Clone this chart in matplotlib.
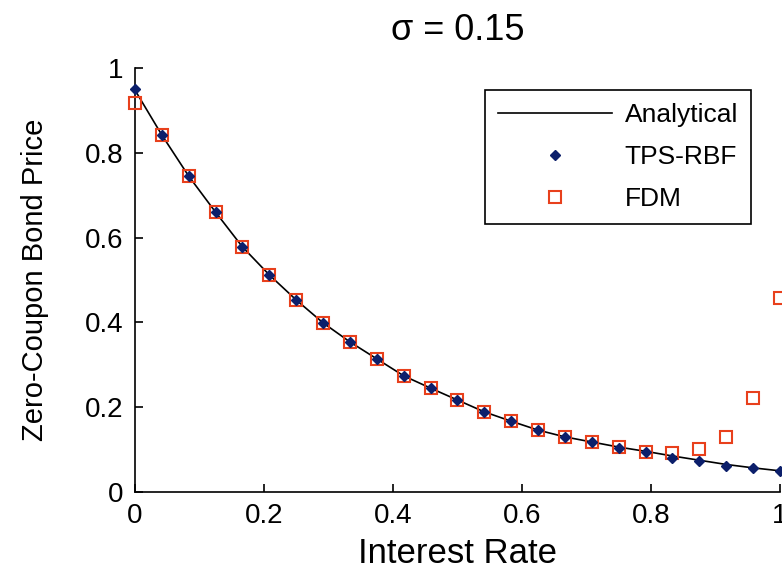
import numpy as np
import matplotlib
matplotlib.use('Agg')
import matplotlib.pyplot as plt

plt.rcParams['font.family'] = ['Liberation Sans', 'DejaVu Sans']

# Interest rate grid (25 nodes)
r = np.arange(25) / 24.0

# Analytical price
analytical = [0.948, 0.842, 0.745, 0.660, 0.578, 0.512, 0.453, 0.399, 0.354,
              0.314, 0.274, 0.245, 0.217, 0.189, 0.167, 0.146, 0.130, 0.118,
              0.106, 0.096, 0.085, 0.075, 0.065, 0.057, 0.050]

# TPS-RBF solution
tps = [0.950, 0.842, 0.745, 0.660, 0.578, 0.512, 0.453, 0.399, 0.354,
       0.314, 0.274, 0.245, 0.217, 0.189, 0.167, 0.146, 0.130, 0.118,
       0.104, 0.095, 0.080, 0.074, 0.061, 0.056, 0.050]

# FDM solution
fdm = [0.917, 0.842, 0.745, 0.660, 0.578, 0.512, 0.453, 0.399, 0.354,
       0.314, 0.274, 0.245, 0.217, 0.189, 0.167, 0.146, 0.130, 0.118,
       0.107, 0.095, 0.092, 0.101, 0.130, 0.222, 0.458]

ticks = [0, 0.2, 0.4, 0.6, 0.8, 1]
tick_labels = ['0', '0.2', '0.4', '0.6', '0.8', '1']

fig = plt.figure(figsize=(7.82, 5.82), dpi=100)
ax = fig.add_axes([0.1726, 0.1546, 0.8248, 0.7285])

ax.plot(r, analytical, color='black', lw=1.2, label='Analytical')
ax.plot(r, tps, ls='none', marker='D', ms=5.5, color='#0c1f6b', label='TPS-RBF',
        clip_on=False, zorder=4)
ax.plot(r, fdm, ls='none', marker='s', ms=8, mfc='none', mec='#e8401c', mew=1.5,
        label='FDM', clip_on=False, zorder=3)

ax.set_xlim(0, 1)
ax.set_ylim(0, 1)
ax.set_xticks(ticks)
ax.set_xticklabels(tick_labels)
ax.set_yticks(ticks)
ax.set_yticklabels(tick_labels)
ax.tick_params(direction='in', length=6, width=1.2, labelsize=20, pad=8)
ax.spines['top'].set_visible(False)
ax.spines['right'].set_visible(False)
ax.spines['left'].set_linewidth(1.2)
ax.spines['bottom'].set_linewidth(1.2)

ax.set_xlabel('Interest Rate', fontsize=25, labelpad=6)
ax.set_ylabel('Zero-Coupon Bond Price', fontsize=21, labelpad=26)
ax.set_title('σ = 0.15', fontsize=26, pad=20)

leg = ax.legend(loc='upper left', bbox_to_anchor=(0.5426, 0.948), fontsize=19,
                frameon=True, fancybox=False, edgecolor='black', framealpha=1,
                handlelength=4.3, handletextpad=0.5, borderpad=0.5,
                labelspacing=0.68, borderaxespad=0)
leg.get_frame().set_linewidth(1.2)

fig.savefig('out.png', dpi=100)
